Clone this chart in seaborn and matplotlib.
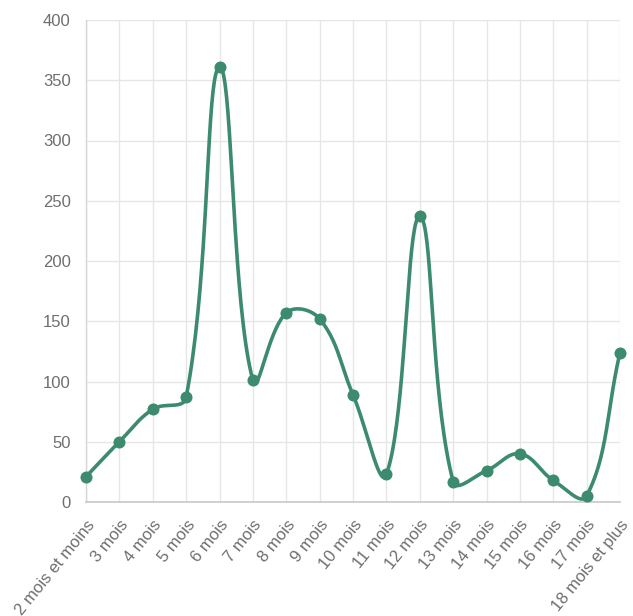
import numpy as np
import pandas as pd
import matplotlib
matplotlib.use("Agg")
import matplotlib.pyplot as plt
import seaborn as sns

categories = ["2 mois et moins", "3 mois", "4 mois", "5 mois", "6 mois", "7 mois",
              "8 mois", "9 mois", "10 mois", "11 mois", "12 mois", "13 mois",
              "14 mois", "15 mois", "16 mois", "17 mois", "18 mois et plus"]
values = [21, 50, 77, 87, 361, 101, 157, 152, 89, 23, 237, 17, 26, 40, 18, 5, 124]
y_ticks = [0, 50, 100, 150, 200, 250, 300, 350, 400]

color = "#3d8b6e"
grid_c = "#e6e6e6"
text_c = "#6e6e6e"

sns.set_theme(style="white")
plt.rcParams['font.family'] = ['Liberation Sans', 'DejaVu Sans']

fig = plt.figure(figsize=(6.33, 6.16), dpi=100)
W, H = 633, 616
ax = fig.add_axes([86 / W, 1 - 502 / H, (620 - 86) / W, (502 - 20) / H])
ax.set_xlim(0, len(categories) - 1)
ax.set_ylim(0, 400)

df = pd.DataFrame({"x": np.arange(len(categories)), "y": values})

# Chart.js-like bezier spline (tension 0.4) computed in display space
fig.canvas.draw()
pts = ax.transData.transform(np.column_stack([df["x"], df["y"]]))
n = len(pts)
t = 0.4
cp_prev = np.zeros_like(pts)
cp_next = np.zeros_like(pts)
for i in range(n):
    p0 = pts[i - 1] if i > 0 else pts[i]
    p1 = pts[i]
    p2 = pts[i + 1] if i < n - 1 else pts[i]
    d01 = np.hypot(*(p1 - p0))
    d12 = np.hypot(*(p2 - p1))
    tot = d01 + d12
    s01 = d01 / tot if tot else 0
    s12 = d12 / tot if tot else 0
    fa, fb = t * s01, t * s12
    cp_prev[i] = p1 - fa * (p2 - p0)
    cp_next[i] = p1 + fb * (p2 - p0)
curve = []
u = np.linspace(0, 1, 40)[:, None]
for i in range(n - 1):
    P0, P1, P2, P3 = pts[i], cp_next[i], cp_prev[i + 1], pts[i + 1]
    seg = ((1 - u) ** 3) * P0 + 3 * ((1 - u) ** 2) * u * P1 + 3 * (1 - u) * u ** 2 * P2 + u ** 3 * P3
    curve.append(seg if i == 0 else seg[1:])
curve = np.vstack(curve)
curve_data = ax.transData.inverted().transform(curve)
cdf = pd.DataFrame({"x": curve_data[:, 0], "y": curve_data[:, 1]})

sns.lineplot(data=cdf, x="x", y="y", ax=ax, color=color, linewidth=2.6,
             sort=False, estimator=None, clip_on=False, zorder=3)
sns.scatterplot(data=df, x="x", y="y", ax=ax, color=color, s=75,
                edgecolor=color, linewidth=0, clip_on=False, zorder=4)

ax.set_xticks(range(len(categories)))
ax.set_xticklabels(categories, rotation=51, ha="right", va="top",
                   rotation_mode="anchor", color=text_c, fontsize=12)
ax.set_yticks(y_ticks)
ax.set_yticklabels([str(v) for v in y_ticks], color=text_c, fontsize=12)
ax.set_xlabel("")
ax.set_ylabel("")

ax.grid(True, color=grid_c, linewidth=1)
ax.set_axisbelow(True)
for s in ["top", "right"]:
    ax.spines[s].set_visible(False)
ax.spines["left"].set_color("#d6d6d6")
ax.spines["bottom"].set_color("#c8c8c8")
ax.spines["left"].set_linewidth(1)
ax.spines["bottom"].set_linewidth(1.2)
ax.tick_params(axis="both", length=9, color=grid_c, width=1, pad=2)

fig.savefig("out.png", dpi=100, facecolor="white")
